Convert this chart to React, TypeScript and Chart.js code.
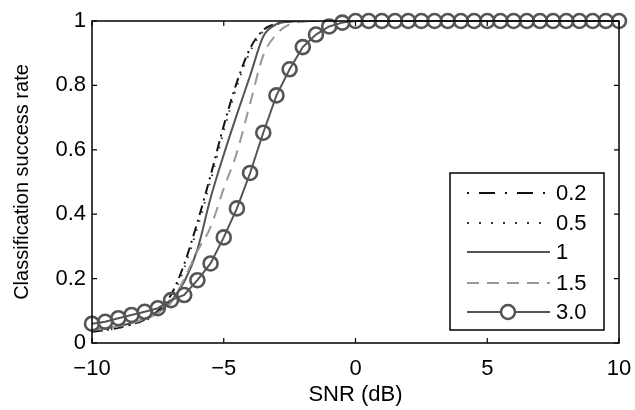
import React, { useEffect, useRef } from "react";
import { Chart, registerables } from "chart.js";

Chart.register(...registerables);

// SNR grid (dB)
const snr = [
  -10, -9.5, -9, -8.5, -8, -7.5, -7, -6.5, -6, -5.5, -5, -4.5, -4, -3.5, -3, -2.5, -2, -1.5, -1, -0.5,
  0, 0.5, 1, 1.5, 2, 2.5, 3, 3.5, 4, 4.5, 5, 5.5, 6, 6.5, 7, 7.5, 8, 8.5, 9, 9.5, 10,
];

const rate02 = [
  0.035, 0.04, 0.047, 0.058, 0.072, 0.1, 0.15, 0.245, 0.375, 0.52, 0.675, 0.81, 0.915, 0.972, 0.992, 0.999, 1,
  1, 1, 1, 1, 1, 1, 1, 1, 1, 1, 1, 1, 1, 1, 1, 1, 1, 1, 1, 1, 1, 1, 1, 1,
];
const rate05 = [
  0.035, 0.04, 0.047, 0.057, 0.07, 0.092, 0.138, 0.232, 0.358, 0.503, 0.658, 0.798, 0.905, 0.968, 0.99, 0.998, 1,
  1, 1, 1, 1, 1, 1, 1, 1, 1, 1, 1, 1, 1, 1, 1, 1, 1, 1, 1, 1, 1, 1, 1, 1,
];
const rate1 = [
  0.04, 0.045, 0.052, 0.062, 0.075, 0.095, 0.13, 0.19, 0.29, 0.45, 0.585, 0.71, 0.83, 0.952, 0.99, 0.998, 1,
  1, 1, 1, 1, 1, 1, 1, 1, 1, 1, 1, 1, 1, 1, 1, 1, 1, 1, 1, 1, 1, 1, 1, 1,
];
const rate15 = [
  0.04, 0.045, 0.052, 0.062, 0.075, 0.093, 0.125, 0.2, 0.285, 0.36, 0.48, 0.592, 0.744, 0.893, 0.959, 0.99, 0.998,
  1, 1, 1, 1, 1, 1, 1, 1, 1, 1, 1, 1, 1, 1, 1, 1, 1, 1, 1, 1, 1, 1, 1, 1,
];
const rate3 = [
  0.06, 0.066, 0.077, 0.087, 0.097, 0.108, 0.133, 0.149, 0.195, 0.247, 0.328, 0.418, 0.528, 0.653, 0.769, 0.85,
  0.919, 0.958, 0.983, 0.995, 1, 1, 1, 1, 1, 1, 1, 1, 1, 1, 1, 1, 1, 1, 1, 1, 1, 1, 1, 1, 1,
];

const seriesLabels = ["0.2", "0.5", "1", "1.5", "3.0"];
const xTicks = [-10, -5, 0, 5, 10];
const yTicks = [0, 0.2, 0.4, 0.6, 0.8, 1];

const FONT = "'Liberation Sans', Arial, Helvetica, sans-serif";

const framePlugin = {
  id: "frame",
  afterDatasetsDraw(chart: any) {
    const { ctx, chartArea, scales } = chart;
    const { left, right, top, bottom } = chartArea;
    ctx.save();
    ctx.strokeStyle = "#000";
    ctx.lineWidth = 1.5;
    ctx.strokeRect(left, top, right - left, bottom - top);
    ctx.lineWidth = 1.2;
    ctx.beginPath();
    xTicks.forEach((v) => {
      const px = scales.x.getPixelForValue(v);
      ctx.moveTo(px, bottom);
      ctx.lineTo(px, bottom - 5);
      ctx.moveTo(px, top);
      ctx.lineTo(px, top + 5);
    });
    yTicks.forEach((v) => {
      const py = scales.y.getPixelForValue(v);
      ctx.moveTo(left, py);
      ctx.lineTo(left + 5, py);
      ctx.moveTo(right, py);
      ctx.lineTo(right - 5, py);
    });
    ctx.stroke();
    ctx.restore();
  },
};

const legendPlugin = {
  id: "boxLegend",
  afterDraw(chart: any) {
    const { ctx } = chart;
    const bx = 450, by = 173, bw = 154, bh = 157;
    ctx.save();
    ctx.fillStyle = "#fff";
    ctx.fillRect(bx, by, bw, bh);
    ctx.strokeStyle = "#000";
    ctx.lineWidth = 1.5;
    ctx.strokeRect(bx, by, bw, bh);
    const rowY = [193, 223, 252, 283, 312];
    chart.data.datasets.forEach((ds: any, i: number) => {
      const y = rowY[i];
      ctx.save();
      ctx.strokeStyle = ds.borderColor;
      ctx.lineWidth = ds.borderWidth;
      ctx.setLineDash(ds.legendDash || ds.borderDash || []);
      ctx.beginPath();
      ctx.moveTo(467, y);
      ctx.lineTo(550, y);
      ctx.stroke();
      ctx.setLineDash([]);
      if (ds.pointRadius > 0) {
        ctx.lineWidth = ds.pointBorderWidth;
        ctx.strokeStyle = ds.pointBorderColor;
        ctx.beginPath();
        ctx.arc(508, y, ds.pointRadius, 0, Math.PI * 2);
        ctx.fillStyle = "#fff";
        ctx.fill();
        ctx.stroke();
      }
      ctx.restore();
      ctx.fillStyle = "#000";
      ctx.font = `22px ${FONT}`;
      ctx.textAlign = "left";
      ctx.textBaseline = "middle";
      ctx.fillText(ds.label, 556, y + 1);
    });
    ctx.restore();
  },
};

export default function App() {
  const ref = useRef<HTMLCanvasElement>(null);
  useEffect(() => {
    const canvas = ref.current;
    if (!canvas) return;
    const mk = (vals: number[]) => snr.map((x, i) => ({ x, y: vals[i] }));
    const chart = new Chart(canvas, {
      type: "line",
      data: {
        datasets: [
          {
            label: seriesLabels[0],
            data: mk(rate02),
            borderColor: "#111",
            borderWidth: 2,
            borderDash: [10, 5, 2, 5],
            legendDash: [2, 10, 16, 10],
            pointRadius: 0,
            cubicInterpolationMode: "monotone",
            order: 4,
          } as any,
          {
            label: seriesLabels[1],
            data: mk(rate05),
            borderColor: "#333",
            borderWidth: 2,
            borderDash: [1.5, 8],
            legendDash: [2, 10],
            pointRadius: 0,
            cubicInterpolationMode: "monotone",
            order: 3,
          } as any,
          {
            label: seriesLabels[2],
            data: mk(rate1),
            borderColor: "#555",
            borderWidth: 2,
            pointRadius: 0,
            cubicInterpolationMode: "monotone",
            order: 2,
          } as any,
          {
            label: seriesLabels[3],
            data: mk(rate15),
            borderColor: "#999",
            borderWidth: 2,
            borderDash: [12, 8],
            pointRadius: 0,
            cubicInterpolationMode: "monotone",
            order: 1,
          } as any,
          {
            label: seriesLabels[4],
            data: mk(rate3),
            borderColor: "#555",
            borderWidth: 2,
            pointRadius: 7,
            pointBorderWidth: 2.6,
            pointBorderColor: "#555",
            pointBackgroundColor: "rgba(0,0,0,0)",
            pointStyle: "circle",
            tension: 0,
            clip: false,
            order: 0,
          } as any,
        ],
      },
      options: {
        animation: false,
        responsive: false,
        events: [],
        layout: { padding: { left: 0, top: 21, right: 16, bottom: 0 } },
        plugins: { legend: { display: false }, tooltip: { enabled: false } },
        scales: {
          x: {
            type: "linear",
            min: -10,
            max: 10,
            grid: { display: false, drawTicks: false },
            border: { display: false },
            afterFit: (s: any) => {
              s.height = 67;
              s.paddingLeft = 0;
              s.paddingRight = 0;
            },
            afterBuildTicks: (s: any) => {
              s.ticks = xTicks.map((v) => ({ value: v }));
            },
            ticks: {
              color: "#000",
              padding: 13,
              maxRotation: 0,
              font: { family: FONT, size: 22 },
              callback: (v: any) => String(v).replace("-", "\u2212"),
            },
            title: {
              display: true,
              text: "SNR (dB)",
              color: "#000",
              font: { family: FONT, size: 22 },
              padding: { top: 0, bottom: 2 },
            },
          },
          y: {
            type: "linear",
            min: 0,
            max: 1,
            grid: { display: false, drawTicks: false },
            border: { display: false },
            afterFit: (s: any) => {
              s.width = 92;
              s.paddingTop = 0;
              s.paddingBottom = 0;
            },
            afterBuildTicks: (s: any) => {
              s.ticks = yTicks.map((v) => ({ value: v }));
            },
            ticks: {
              color: "#000",
              padding: 6,
              font: { family: FONT, size: 22 },
              callback: (v: any) => String(v),
            },
            title: {
              display: true,
              text: "Classification success rate",
              color: "#000",
              font: { family: FONT, size: 20 },
              padding: { top: 10, bottom: 0 },
            },
          },
        },
      } as any,
      plugins: [framePlugin, legendPlugin],
    });
    return () => chart.destroy();
  }, []);
  return (
    <div style={{ position: "fixed", left: 0, top: 0, width: 635, height: 410, background: "#fff" }}>
      <canvas ref={ref} width={635} height={410} style={{ display: "block" }} />
    </div>
  );
}
